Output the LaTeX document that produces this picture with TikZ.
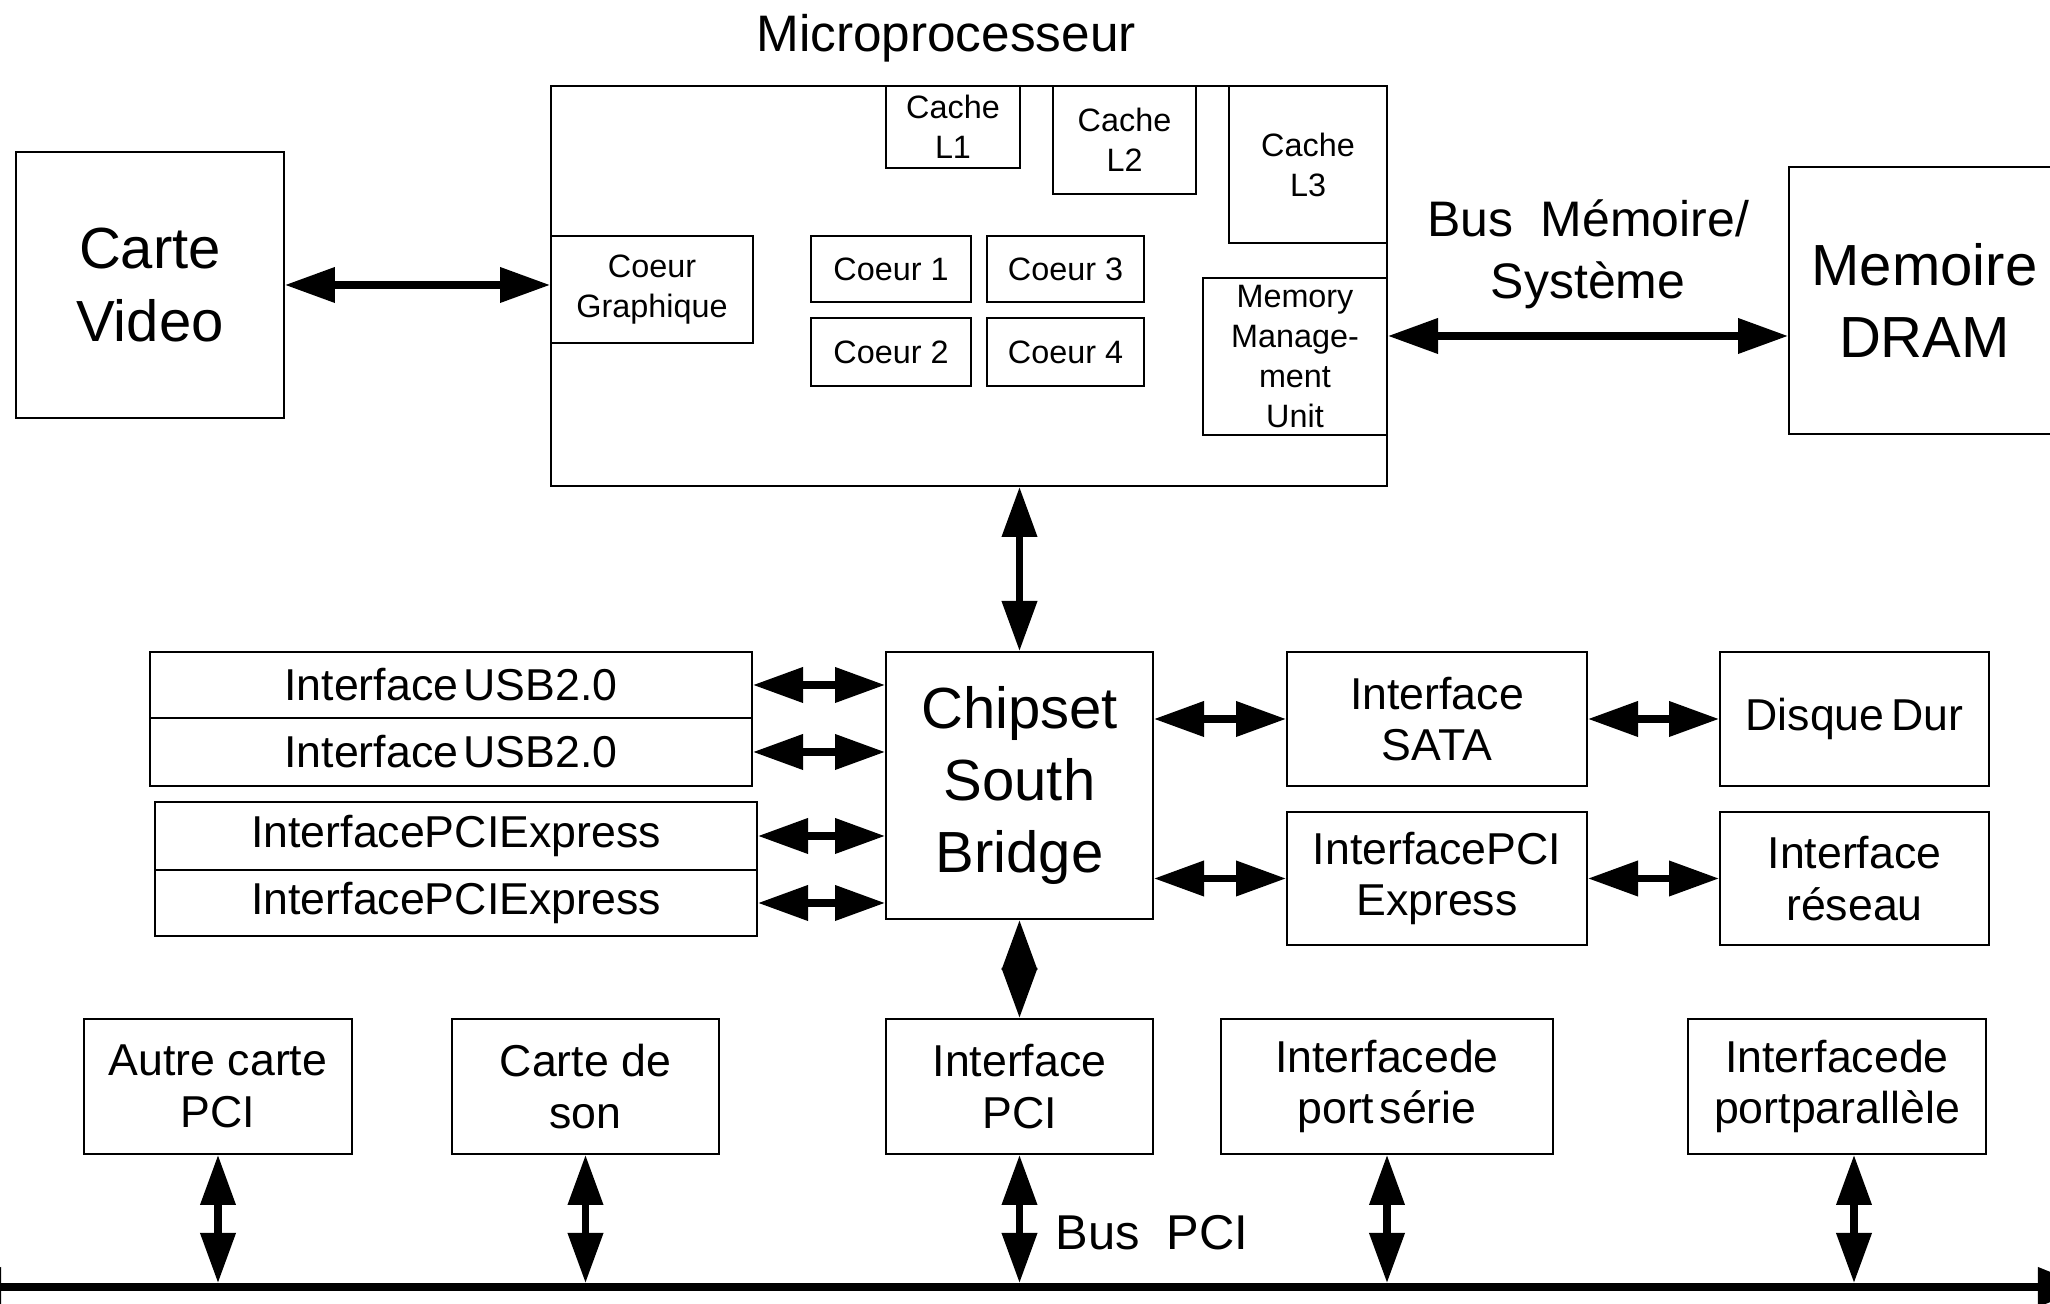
\documentclass[tikz,border=0pt]{standalone}
\usepackage{fontspec}
\setmainfont{Liberation Sans}
\usetikzlibrary{arrows.meta}
\tikzset{
  box/.style={draw, line width=0.55pt, inner sep=0pt, align=center},
  small/.style={font=\fontsize{9.2}{11.4}\selectfont},
  med/.style={font=\fontsize{12.7}{14.7}\selectfont},
  big/.style={font=\fontsize{16.5}{20.5}\selectfont},
  dbl/.style={line width=2pt, {Triangle[length=5mm,width=3.4mm]}-{Triangle[length=5mm,width=3.4mm]}},
  busline/.style={line width=2pt, {Triangle[length=5mm,width=3.8mm]}-{Triangle[length=5mm,width=3.8mm]}},
}
\newcommand{\bx}[7]{\node[box,#7,minimum width={(#4-#2)*0.01cm},minimum height={(#5-#3)*0.01cm}] (#1) at ({(#2+#4)/2},{(#3+#5)/2}) {#6};}
\begin{document}
\begin{tikzpicture}[x=0.01cm,y=-0.01cm]
\useasboundingbox (0,0) rectangle (2050,1304);
\clip (0,0) rectangle (2050,1304);

% Microprocessor
\node[anchor=base, font=\fontsize{14.6}{17}\selectfont] (title) at (946,52) {Microprocesseur};
\bx{micro}{551}{86}{1387}{486}{}{}
\bx{l1}{886}{86}{1020}{168}{Cache\\L1}{small}
\bx{l2}{1053}{86}{1196}{194}{Cache\\L2}{small}
\bx{l3}{1229}{86}{1387}{243}{Cache\\L3}{small}
\bx{cg}{551}{236}{753}{343}{Coeur\\Graphique}{small}
\bx{c1}{811}{236}{971}{302}{Coeur 1}{small}
\bx{c3}{987}{236}{1144}{302}{Coeur 3}{small}
\bx{c2}{811}{318}{971}{386}{Coeur 2}{small}
\bx{c4}{987}{318}{1144}{386}{Coeur 4}{small}
\bx{mmu}{1203}{278}{1387}{435}{Memory\\Manage-\\ment\\Unit}{small}

% Video and memory
\bx{cv}{16}{152}{284}{418}{Carte\\Video}{big}
\bx{dram}{1789}{167}{2060}{434}{Memoire\\DRAM}{big}
\node[font=\fontsize{14.2}{17.6}\selectfont, align=center] (busmem) at (1588,254) {Bus\ \ Mémoire/\\Système};

% South bridge
\bx{chip}{886}{652}{1153}{919}{Chipset\\South\\Bridge}{big}
\bx{usb1}{150}{652}{752}{718}{Interface\hspace{0.12em}USB2.0}{med}
\bx{usb2}{150}{718}{752}{786}{Interface\hspace{0.12em}USB2.0}{med}
\bx{pcie1}{155}{802}{757}{870}{InterfacePCIExpress}{med}
\bx{pcie2}{155}{870}{757}{936}{InterfacePCIExpress}{med}
\bx{sata}{1287}{652}{1587}{786}{Interface\\SATA}{med}
\bx{disk}{1720}{652}{1989}{786}{Disque\hspace{0.15em}Dur}{med}
\bx{rpcie}{1287}{812}{1587}{945}{InterfacePCI\\Express}{med}
\bx{net}{1720}{812}{1989}{945}{Interface\\réseau}{med}

% PCI bus cards
\bx{autre}{84}{1019}{352}{1154}{Autre carte\\PCI}{med}
\bx{son}{452}{1019}{719}{1154}{Carte de\\son}{med}
\bx{ipci}{886}{1019}{1153}{1154}{Interface\\PCI}{med}
\bx{serie}{1221}{1019}{1553}{1154}{Interfacede\\port\hspace{0.12em}série}{med}
\bx{par}{1688}{1019}{1986}{1154}{Interfacede\\portparallèle}{med}
\node[anchor=base west, font=\fontsize{13.9}{16}\selectfont] (buspci) at (1043,1250) {Bus\ \ PCI};

% Connectors
\draw[dbl] (cv.east) -- (cv.east -| cg.west);
\draw[dbl] (mmu.east |- 0,336) -- (dram.west |- 0,336);
\draw[dbl] (chip.north) -- (chip.north |- micro.south);
\draw[dbl] (usb1.east) -- (usb1.east -| chip.west);
\draw[dbl] (usb2.east) -- (usb2.east -| chip.west);
\draw[dbl] (pcie1.east) -- (pcie1.east -| chip.west);
\draw[dbl] (pcie2.east) -- (pcie2.east -| chip.west);
\draw[dbl] (chip.east |- sata.west) -- (sata.west);
\draw[dbl] (sata.east) -- (disk.west);
\draw[dbl] (chip.east |- rpcie.west) -- (rpcie.west);
\draw[dbl] (rpcie.east) -- (net.west);
\draw[dbl] (chip.south) -- (ipci.north);

\coordinate (busL) at (-49,1287);
\coordinate (busR) at (2088,1287);
\draw[busline] (busL) -- (busR);
\coordinate (busT) at (0,1283);
\draw[dbl] (autre.south) -- (autre.south |- busT);
\draw[dbl] (son.south) -- (son.south |- busT);
\draw[dbl] (ipci.south) -- (ipci.south |- busT);
\draw[dbl] (serie.south) -- (serie.south |- busT);
\draw[dbl] (1854,0 |- par.south) -- (1854,0 |- busT);
\end{tikzpicture}
\end{document}
